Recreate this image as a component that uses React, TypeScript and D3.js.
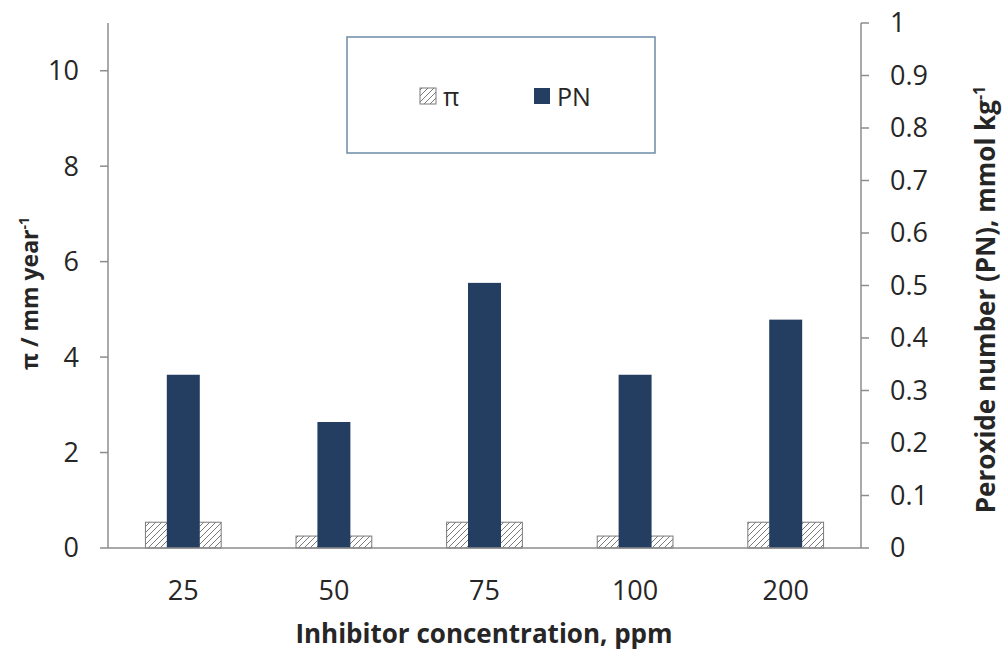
import React from 'react';
import * as d3 from 'd3';

const categories = ['25', '50', '75', '100', '200'];
const piValues = [0.54, 0.25, 0.54, 0.25, 0.54];
const pnValues = [0.33, 0.24, 0.505, 0.33, 0.435];
const leftTicks = [0, 2, 4, 6, 8, 10];
const rightTicks = [0, 0.1, 0.2, 0.3, 0.4, 0.5, 0.6, 0.7, 0.8, 0.9, 1];

const W = 1003;
const H = 655;
const left = 108;
const right = 861;
const top = 23;
const bottom = 548;
const font = '"Open Sans", "DejaVu Sans", sans-serif';
const axisColor = '#8c8c8c';
const textColor = '#262626';
const navy = '#243e62';

const App = () => {
  const x = d3.scaleBand().domain(categories).range([left, right]).padding(0);
  const yL = d3.scaleLinear().domain([0, 11]).range([bottom, top]);
  const yR = d3.scaleLinear().domain([0, 1]).range([bottom, top]);
  const bw = x.bandwidth();
  const piW = bw * 0.503;
  const pnW = bw * 0.219;

  return (
    <svg width={W} height={H} style={{ position: 'absolute', left: 0, top: 0, background: '#fff' }}>
      <defs>
        <pattern id="hatch" patternUnits="userSpaceOnUse" width="6" height="6">
          <rect width="6" height="6" fill="#fff" />
          <path d="M-1,1 l2,-2 M0,6 l6,-6 M5,7 l2,-2" stroke="#7a7a7a" strokeWidth="1" />
        </pattern>
      </defs>

      {/* pi bars (primary axis) */}
      {categories.map((c, i) => (
        <rect key={'pi' + c}
          x={x(c)! + bw / 2 - piW / 2} y={yL(piValues[i])}
          width={piW} height={bottom - yL(piValues[i])}
          fill="url(#hatch)" stroke="#7a7a7a" strokeWidth={1} />
      ))}

      {/* PN bars (secondary axis) */}
      {categories.map((c, i) => (
        <rect key={'pn' + c}
          x={x(c)! + bw / 2 - pnW / 2} y={yR(pnValues[i])}
          width={pnW} height={bottom - yR(pnValues[i])}
          fill={navy} />
      ))}

      {/* axes */}
      <line x1={left} x2={left} y1={top} y2={bottom} stroke={axisColor} strokeWidth={1.5} />
      <line x1={right} x2={right} y1={top} y2={bottom} stroke={axisColor} strokeWidth={1.5} />
      <line x1={left} x2={right} y1={bottom} y2={bottom} stroke={axisColor} strokeWidth={1.5} />

      {leftTicks.map(t => (
        <g key={'l' + t}>
          <line x1={left - 8} x2={left} y1={yL(t)} y2={yL(t)} stroke={axisColor} strokeWidth={1.5} />
          <text x={79} y={yL(t)} dy="0.35em" textAnchor="end" fontFamily={font} fontSize={27} fill={textColor}>{t}</text>
        </g>
      ))}
      {rightTicks.map(t => (
        <g key={'r' + t}>
          <line x1={right} x2={right + 8} y1={yR(t)} y2={yR(t)} stroke={axisColor} strokeWidth={1.5} />
          <text x={890} y={yR(t)} dy="0.35em" textAnchor="start" fontFamily={font} fontSize={27} fill={textColor}>{t}</text>
        </g>
      ))}
      {categories.map(c => (
        <text key={'x' + c} x={x(c)! + bw / 2} y={591} dy="0.35em" textAnchor="middle" fontFamily={font} fontSize={27} fill={textColor}>{c}</text>
      ))}

      {/* axis titles */}
      <text x={484} y={634} dy="0.35em" textAnchor="middle" fontFamily={font} fontSize={26} fontWeight="bold" fill={textColor}>
        Inhibitor concentration, ppm
      </text>
      <text transform={`translate(30,${(top + bottom) / 2 + 8}) rotate(-90)`} dy="0.35em" textAnchor="middle" fontFamily={font} fontSize={23} fontWeight="bold" fill={textColor}>
        π / mm year<tspan fontSize={14} dy={-9}>-1</tspan>
      </text>
      <text transform={`translate(986,${(top + bottom) / 2 + 14}) rotate(-90)`} dy="0.35em" textAnchor="middle" fontFamily={font} fontSize={26} fontWeight="bold" fill={textColor}>
        Peroxide number (PN), mmol kg<tspan fontSize={16} dy={-10}>-1</tspan>
      </text>

      {/* legend */}
      <rect x={347} y={37} width={308} height={116} fill="#fff" stroke="#6c8aa6" strokeWidth={1.5} />
      <rect x={420} y={88} width={16} height={16} fill="url(#hatch)" stroke="#7a7a7a" strokeWidth={1} />
      <text x={443} y={97} dy="0.35em" fontFamily={font} fontSize={25} fill={textColor}>π</text>
      <rect x={534} y={88} width={16} height={16} fill={navy} />
      <text x={557} y={97} dy="0.35em" fontFamily={font} fontSize={25} fill={textColor}>PN</text>
    </svg>
  );
};

export default App;
